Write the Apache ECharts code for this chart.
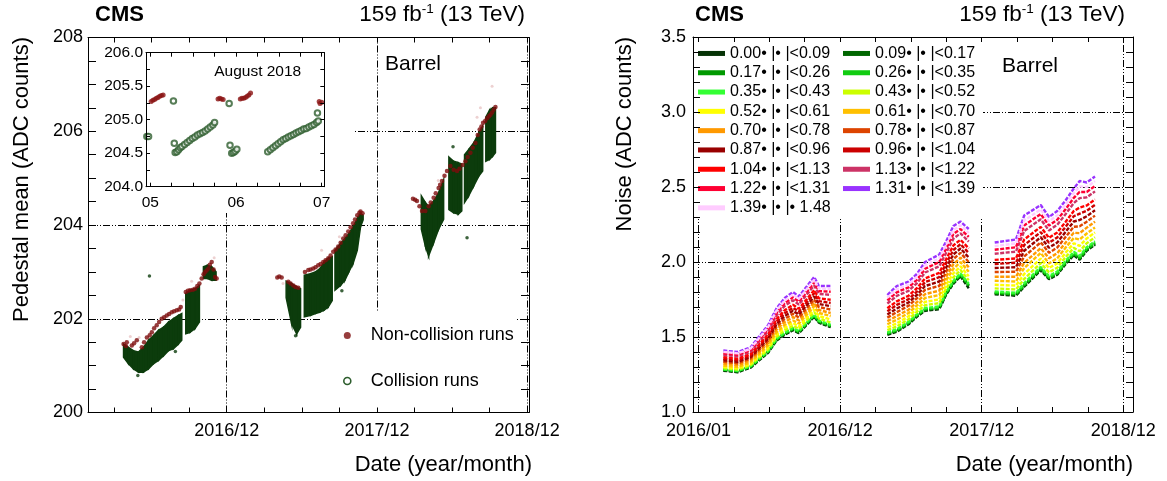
<!DOCTYPE html>
<html><head><meta charset="utf-8">
<script src="https://cdn.jsdelivr.net/npm/echarts@6/dist/echarts.min.js"></script>
<style>html,body{margin:0;padding:0;background:#fff}#c{width:1167px;height:481px}</style>
</head><body><div id="c"></div>
<script>
// ================= DATA =================
// x values are months counted from the "2016/01" axis label
const xTickMonths = [0, 12, 24, 36];
const xTickLabels = ['2016/01', '2016/12', '2017/12', '2018/12'];
const leftTickMonths = [3, 6, 9, 12, 15, 18, 21, 24, 27, 30, 33, 36];
const rightTickMonths = [0, 3, 6, 9, 12, 15, 18, 21, 24, 27, 30, 33, 36];
const insetTickDays = [5, 5.25, 5.5, 5.75, 6, 6.25, 6.5, 6.75, 7];
const insetDays = [5, 6, 7];
const insetDayLabels = ['05', '06', '07'];
const gridLeftX = [12, 24, 36];
const gridLeftY = [202, 204, 206];
const gridRightX = [0, 12, 24, 36];
const gridRightY = [1.5, 2.0, 2.5, 3.0];

// Pedestal mean, collision runs: band (low..high) per time sample, grouped in segments
const collisionMonths = [3.76,4.15,4.55,4.95,5.35,5.75,6.15,6.55,6.95,7.35,7.74,8.14,8.41,
  8.73,9.07,9.47,9.82, 10.14,10.46,10.8,11.15,
  16.75,17.19,17.59,17.9, 18.2,18.7,19.1,19.45,19.77,20.11,20.43,
  20.65,21.1,21.44,21.76,22.1,22.43,22.69,22.9,
  27.55,27.87,28.13,28.53,28.93,29.33, 29.75,30.13,30.5,30.78,
  31.0,31.33,31.73,32.13,32.45, 32.7,33.0,33.25,33.47];
const collisionLow = [201.18,201.04,200.93,200.86,200.86,200.93,201.04,201.11,201.21,201.32,201.36,201.46,201.54,
  201.68,201.71,201.79,201.93, 202.86,202.86,202.82,202.82,
  202.45,201.89,201.68,201.82, 202.04,202.07,202.11,202.14,202.18,202.25,202.39,
  202.61,202.71,202.82,203.0,203.18,203.46,203.96,204.11,
  203.91,203.55,203.34,203.62,203.91,204.12, 204.33,204.26,204.23,204.3,
  204.48,204.62,204.83,205.04,205.15, 205.36,205.4,205.47,205.54];
const collisionHigh = [201.46,201.39,201.32,201.29,201.39,201.54,201.64,201.75,201.82,201.93,202.0,202.07,202.11,
  202.54,202.61,202.64,202.71, 203.11,203.14,203.11,203.0,
  202.8,202.75,202.68,202.64, 202.93,202.96,203.0,203.07,203.21,203.29,203.32,
  203.46,203.61,203.71,203.82,203.96,204.14,204.25,204.21,
  204.62,204.48,204.4,204.51,204.69,204.97, 205.45,205.36,205.33,205.3,
  205.5,205.61,205.75,205.96,206.11, 206.3,206.45,206.5,206.5];
const collisionSegment = [1,1,1,1,1,1,1,1,1,1,1,1,1, 2,2,2,2, 3,3,3,3, 4,4,4,4, 5,5,5,5,5,5,5,
  6,6,6,6,6,6,6,6, 7,7,7,7,7,7, 8,8,8,8, 9,9,9,9,9, 10,10,10,10];
const collisionOutliers = [[5.83,202.91],[4.9,200.79],[17.5,201.64],[30.08,205.67],[31.2,203.73],[7.9,201.3],[21.2,202.6]];

// Pedestal mean, non-collision runs
const nonCollision = [[3.76,201.46],[3.95,201.42],[4.02,201.5],[4.42,201.43],[4.6,201.48],[4.82,201.54],[5.22,201.39],[5.4,201.5],
  [5.62,201.6],[5.85,201.65],[6.02,201.71],[6.2,201.8],[6.41,201.86],[6.6,201.93],[6.81,202.0],[7.0,202.03],[7.21,202.07],
  [7.4,202.1],[7.61,202.14],[7.8,202.16],[8.01,202.18],[8.2,202.2],[8.33,202.25],[8.73,202.57],[8.9,202.6],[9.07,202.61],
  [9.3,202.62],[9.47,202.64],[9.65,202.7],[9.82,202.75],[10.0,202.86],[10.15,202.95],[10.27,203.0],[10.4,203.03],[10.54,203.07],
  [10.65,203.15],[10.8,203.21],[10.95,203.05],[11.07,202.89],[11.2,202.86],
  [16.04,202.88],[16.2,202.9],[16.39,202.88],[16.92,202.79],[17.1,202.75],[17.32,202.71],[17.5,202.68],[17.72,202.66],
  [18.25,203.0],[18.52,203.04],[18.7,203.05],[18.91,203.07],[19.1,203.1],[19.31,203.14],[19.5,203.17],[19.71,203.21],
  [19.9,203.25],[20.11,203.29],[20.3,203.35],[20.51,203.43],[20.7,203.48],[20.91,203.54],[21.1,203.62],[21.31,203.71],
  [21.5,203.78],[21.71,203.86],[21.9,203.95],[22.1,204.04],[22.25,204.12],[22.43,204.21],[22.6,204.26],[22.69,204.29],[22.85,204.25],
  [26.88,204.56],[27.05,204.54],[27.2,204.51],[27.4,204.4],[27.6,204.3],[27.87,204.3],[28.13,204.4],[28.3,204.48],[28.53,204.58],
  [28.7,204.68],[28.93,204.79],[29.05,204.86],[29.2,204.94],[29.4,205.05],[29.6,205.15],[29.87,205.26],[30.13,205.18],
  [30.4,205.15],[30.6,205.2],[30.85,205.28],[31.07,205.36],[31.25,205.45],[31.47,205.54],[31.65,205.65],[31.87,205.75],
  [32.05,205.92],[32.21,206.04],[32.35,206.1],[32.48,206.18],[32.65,206.22],[32.8,206.28],[32.95,206.32],[33.07,206.35],
  [33.2,206.4],[33.33,206.46],[33.47,206.52]];
const nonCollisionFaint = [[33.2,206.96],[32.27,206.5],[32.0,206.3],[28.9,204.95],[19.58,203.46],[16.5,202.75],
  [9.2,202.8],[5.0,201.6],[11.0,203.3],[21.0,203.75],[4.3,201.62],[8.5,202.4]];

// Inset: August 2018 (day of month)
const insetNonCollision = [[5.01,205.27],[5.03,205.29],[5.05,205.30],[5.07,205.32],[5.09,205.33],[5.11,205.35],[5.13,205.36],[5.15,205.37],
  [5.79,205.31],[5.81,205.32],[5.83,205.31],[5.85,205.30],
  [6.05,205.31],[6.07,205.32],[6.09,205.32],[6.11,205.33],[6.13,205.35],[6.15,205.37],[6.17,205.40],
  [6.97,205.27],[6.98,205.24],[7.0,205.26]];
const insetCollision = [[4.96,204.75],[4.98,204.75],[5.27,205.28],[5.28,204.65],
  [5.29,204.51],[5.31,204.52],[5.33,204.55],[5.35,204.58],[5.37,204.60],[5.40,204.63],[5.43,204.66],[5.46,204.69],[5.49,204.72],
  [5.52,204.74],[5.55,204.77],[5.58,204.79],[5.61,204.81],[5.64,204.83],[5.67,204.86],[5.70,204.89],[5.73,204.92],[5.75,204.96],
  [5.92,205.24],[5.93,204.62],[5.95,204.50],[5.97,204.51],[5.99,204.53],[6.01,204.56],
  [6.37,204.52],[6.40,204.55],[6.43,204.58],[6.46,204.61],[6.49,204.64],[6.52,204.67],[6.55,204.70],[6.58,204.72],[6.61,204.74],
  [6.64,204.76],[6.67,204.78],[6.70,204.80],[6.73,204.82],[6.76,204.84],[6.79,204.86],[6.82,204.87],[6.85,204.89],[6.88,204.91],
  [6.91,204.93],[6.94,204.96],[6.96,204.98],[6.95,205.10]];

// Noise per |eta| bin
const etaBins = ['0.00• |• |<0.09','0.09• |• |<0.17','0.17• |• |<0.26','0.26• |• |<0.35','0.35• |• |<0.43','0.43• |• |<0.52',
  '0.52• |• |<0.61','0.61• |• |<0.70','0.70• |• |<0.78','0.78• |• |<0.87','0.87• |• |<0.96','0.96• |• |<1.04',
  '1.04• |• |<1.13','1.13• |• |<1.22','1.22• |• |<1.31','1.31• |• |<1.39','1.39• |• |• 1.48'];
const etaColors = ['#063306','#006600','#009900','#11cc11','#33ff33','#ccff00','#ffff00','#ffc000','#ff9900',
  '#dd4400','#990000','#cc0000','#ff0000','#cc3366','#ff0033','#9933ff','#ffccff'];
const noiseMonths = [2.1,3.3,4.4,5.9,6.6,7.3,8.0,8.5,9.8,10.2,11.2, 16.0,16.8,17.8,18.5,19.2,20.4,21.0,21.6,22.2,22.9,
  25.1,26.9,27.6,29.0,29.7,30.4,31.1,31.8,32.3,32.9,33.6];
const noise_000_009 = [1.275,1.265,1.295,1.395,1.475,1.515,1.545,1.525,1.635,1.595,1.565, 1.515,1.535,1.585,1.635,1.675,1.685,1.785,1.855,1.905,1.825, 1.785,1.775,1.835,1.945,1.885,1.915,1.985,2.045,2.015,2.075,2.115];
const noise_009_017 = [1.28,1.27,1.30,1.40,1.48,1.52,1.55,1.53,1.64,1.60,1.57, 1.52,1.54,1.59,1.64,1.68,1.69,1.79,1.86,1.91,1.84, 1.79,1.78,1.84,1.95,1.89,1.92,1.99,2.05,2.02,2.08,2.12];
const noise_017_026 = [1.282,1.272,1.302,1.402,1.483,1.523,1.553,1.533,1.643,1.603,1.573, 1.523,1.543,1.593,1.643,1.684,1.694,1.794,1.864,1.914,1.844, 1.794,1.784,1.845,1.955,1.894,1.924,1.994,2.055,2.025,2.084,2.124];
const noise_026_035 = [1.283,1.273,1.303,1.404,1.485,1.525,1.556,1.535,1.645,1.605,1.575, 1.525,1.546,1.596,1.646,1.686,1.697,1.797,1.867,1.917,1.847, 1.797,1.787,1.848,1.958,1.897,1.927,1.997,2.058,2.029,2.088,2.128];
const noise_035_043 = [1.285,1.275,1.305,1.407,1.488,1.53,1.56,1.54,1.65,1.61,1.581, 1.53,1.552,1.601,1.651,1.693,1.704,1.804,1.875,1.924,1.855, 1.804,1.795,1.859,1.967,1.906,1.937,2.007,2.068,2.041,2.098,2.138];
const noise_043_052 = [1.293,1.283,1.313,1.418,1.501,1.544,1.575,1.554,1.666,1.624,1.597, 1.546,1.57,1.618,1.668,1.712,1.726,1.825,1.898,1.946,1.878, 1.824,1.817,1.887,1.993,1.931,1.962,2.032,2.094,2.072,2.125,2.165];
const noise_052_061 = [1.302,1.292,1.322,1.431,1.516,1.561,1.593,1.571,1.684,1.641,1.616, 1.564,1.591,1.638,1.688,1.734,1.751,1.85,1.925,1.971,1.905, 1.848,1.843,1.92,2.023,1.96,1.991,2.061,2.125,2.108,2.157,2.197];
const noise_061_070 = [1.31,1.30,1.33,1.445,1.53,1.58,1.61,1.59,1.705,1.66,1.64, 1.585,1.615,1.66,1.71,1.76,1.78,1.88,1.955,2.0,1.935, 1.875,1.87,1.96,2.06,1.99,2.025,2.095,2.16,2.15,2.19,2.23];
const noise_070_078 = [1.323,1.313,1.343,1.46,1.55,1.60,1.633,1.61,1.726,1.68,1.66, 1.606,1.64,1.682,1.732,1.786,1.809,1.906,1.985,2.029,1.965, 1.902,1.902,1.995,2.092,2.025,2.059,2.129,2.195,2.192,2.229,2.269];
const noise_078_087 = [1.335,1.325,1.355,1.476,1.568,1.62,1.655,1.63,1.749,1.70,1.683, 1.629,1.666,1.708,1.758,1.814,1.841,1.937,2.02,2.061,2.0, 1.933,1.935,2.037,2.131,2.062,2.096,2.166,2.235,2.238,2.269,2.309];
const noise_087_096 = [1.345,1.335,1.365,1.49,1.585,1.64,1.675,1.65,1.77,1.72,1.705, 1.65,1.69,1.73,1.78,1.84,1.87,1.965,2.05,2.09,2.03, 1.96,1.965,2.075,2.165,2.095,2.13,2.20,2.27,2.28,2.305,2.345];
const noise_096_104 = [1.355,1.345,1.375,1.504,1.602,1.659,1.695,1.669,1.791,1.739,1.727, 1.671,1.714,1.752,1.802,1.866,1.899,1.993,2.08,2.119,2.06, 1.987,1.995,2.113,2.199,2.128,2.164,2.234,2.305,2.322,2.341,2.381];
const noise_104_113 = [1.366,1.356,1.386,1.519,1.619,1.678,1.715,1.688,1.812,1.758,1.748, 1.692,1.738,1.775,1.825,1.891,1.928,2.021,2.111,2.148,2.091, 2.014,2.024,2.15,2.234,2.161,2.197,2.267,2.34,2.363,2.377,2.417];
const noise_113_122 = [1.381,1.371,1.401,1.54,1.644,1.707,1.745,1.717,1.843,1.787,1.781, 1.723,1.774,1.808,1.858,1.93,1.971,2.063,2.156,2.191,2.136, 2.055,2.069,2.207,2.285,2.21,2.248,2.318,2.393,2.426,2.431,2.471];
const noise_122_131 = [1.392,1.382,1.412,1.555,1.661,1.726,1.765,1.736,1.864,1.806,1.802, 1.744,1.798,1.831,1.881,1.955,2.0,2.091,2.187,2.22,2.167, 2.082,2.098,2.244,2.32,2.243,2.281,2.351,2.428,2.467,2.467,2.507];
const noise_131_139 = [1.41,1.40,1.43,1.58,1.69,1.76,1.80,1.77,1.90,1.84,1.84, 1.78,1.84,1.87,1.92,2.00,2.05,2.14,2.24,2.27,2.22, 2.13,2.15,2.31,2.38,2.30,2.34,2.41,2.49,2.54,2.53,2.57];
const noise_139_148 = [1.401,1.391,1.421,1.567,1.675,1.743,1.783,1.753,1.882,1.823,1.821, 1.762,1.819,1.85,1.90,1.978,2.025,2.116,2.213,2.245,2.193, 2.106,2.124,2.277,2.35,2.271,2.311,2.381,2.459,2.504,2.499,2.539];
const noiseSeries = [noise_000_009,noise_009_017,noise_017_026,noise_026_035,noise_035_043,noise_043_052,noise_052_061,
  noise_061_070,noise_070_078,noise_078_087,noise_087_096,noise_096_104,noise_104_113,noise_113_122,noise_122_131,
  noise_131_139,noise_139_148];

// ================= CHART =================
const FONT = "'Liberation Sans', Arial, Helvetica, sans-serif";
const BLACK = '#000';
const GREEN = '#0c3c0c';
const RED = '#7d0d0d';
const chart = echarts.init(document.getElementById('c'), null, { renderer: 'canvas' });

function monthLabel(v) { const i = xTickMonths.indexOf(Math.round(v)); return i >= 0 ? xTickLabels[i] : ''; }
function dayLabel(v) { const i = insetDays.indexOf(Math.round(v)); return i >= 0 ? insetDayLabels[i] : ''; }

function xAx(grid, min, max, pos, ticks, labels, fmt, tickLen, fs, margin) {
  return {
    type: 'value', gridIndex: grid, min: min, max: max, position: pos, z: 5,
    axisLine: { show: true, onZero: false, lineStyle: { color: BLACK, width: 1 } },
    axisTick: { show: true, inside: true, length: tickLen, customValues: ticks, lineStyle: { color: BLACK, width: 1 } },
    axisLabel: labels ? { show: true, customValues: labels, formatter: fmt, color: BLACK, fontSize: fs, fontFamily: FONT, margin: margin } : { show: false },
    splitLine: { show: false }, minorTick: { show: false }, minorSplitLine: { show: false }
  };
}
function yAx(grid, min, max, interval, minorSplit, pos, labelOn, fmt, tickLen, fs, margin) {
  return {
    type: 'value', gridIndex: grid, min: min, max: max, interval: interval, position: pos, z: 5,
    axisLine: { show: true, onZero: false, lineStyle: { color: BLACK, width: 1 } },
    axisTick: { show: true, inside: true, length: tickLen, lineStyle: { color: BLACK, width: 1 } },
    minorTick: { show: true, splitNumber: minorSplit, length: tickLen, lineStyle: { color: BLACK, width: 1 } },
    axisLabel: labelOn ? { show: true, formatter: fmt, color: BLACK, fontSize: fs, fontFamily: FONT, margin: margin } : { show: false },
    splitLine: { show: false }, minorSplitLine: { show: false }
  };
}

const collisionQuads = [];
for (let i = 0; i < collisionMonths.length - 1; i++) {
  if (collisionSegment[i] === collisionSegment[i + 1]) {
    collisionQuads.push([collisionMonths[i], collisionLow[i], collisionHigh[i],
      collisionMonths[i + 1], collisionLow[i + 1], collisionHigh[i + 1]]);
  }
}
function buildNoise(arr) {
  const out = [];
  for (let i = 0; i < noiseMonths.length; i++) {
    if (i > 0 && noiseMonths[i] - noiseMonths[i - 1] > 2.0) out.push([noiseMonths[i - 1], '-']);
    out.push([noiseMonths[i], arr[i]]);
  }
  return out;
}
const dashDot = [7, 2, 1, 2, 1, 2];
function gridLineSeries(xi, yi, xs, ys) {
  return {
    type: 'line', name: 'grid' + xi, xAxisIndex: xi, yAxisIndex: yi, data: [], z: 1, silent: true,
    markLine: {
      z: 1, silent: true, symbol: ['none', 'none'], label: { show: false }, animation: false,
      lineStyle: { color: BLACK, width: 1, type: dashDot },
      emphasis: { disabled: true },
      data: xs.map(v => ({ xAxis: v })).concat(ys.map(v => ({ yAxis: v })))
    }
  };
}

const series = [
  gridLineSeries(0, 0, gridLeftX, gridLeftY),
  gridLineSeries(4, 4, gridRightX, gridRightY),
  {
    type: 'custom', name: 'Collision runs', xAxisIndex: 0, yAxisIndex: 0, z: 3, silent: true,
    itemStyle: { color: GREEN },
    encode: { x: [0, 3], y: [1, 2, 4, 5] },
    data: collisionQuads,
    renderItem: function (params, api) {
      const a = api.coord([api.value(0), api.value(2)]);
      const b = api.coord([api.value(3), api.value(5)]);
      const c = api.coord([api.value(3), api.value(4)]);
      const d = api.coord([api.value(0), api.value(1)]);
      return { type: 'polygon', shape: { points: [a, b, c, d] }, style: { fill: GREEN, stroke: GREEN, lineWidth: 1.5 } };
    }
  },
  { type: 'scatter', name: 'Collision outliers', xAxisIndex: 0, yAxisIndex: 0, z: 3, silent: true,
    symbolSize: 3.5, itemStyle: { color: GREEN }, data: collisionOutliers },
  { type: 'scatter', name: 'Non-collision faint', xAxisIndex: 0, yAxisIndex: 0, z: 3, silent: true,
    symbolSize: 3, itemStyle: { color: 'rgba(190,90,90,0.35)' }, data: nonCollisionFaint },
  { type: 'scatter', name: 'Non-collision runs', xAxisIndex: 0, yAxisIndex: 0, z: 4, silent: true,
    symbolSize: 4.5, itemStyle: { color: RED }, data: nonCollision },
  { type: 'scatter', name: 'Aug non-collision', xAxisIndex: 2, yAxisIndex: 2, z: 4, silent: true,
    symbolSize: 5, itemStyle: { color: '#8b1414' }, data: insetNonCollision },
  { type: 'scatter', name: 'Aug collision', xAxisIndex: 2, yAxisIndex: 2, z: 4, silent: true,
    symbol: 'emptyCircle', symbolSize: 5.5, itemStyle: { color: '#2e5e2e', borderColor: '#2e5e2e', borderWidth: 1.6 }, data: insetCollision }
];
etaBins.forEach(function (name, i) {
  series.push({
    type: 'line', name: name, xAxisIndex: 4, yAxisIndex: 4, z: 3, silent: true,
    showSymbol: false, symbol: 'none', connectNulls: false,
    itemStyle: { color: etaColors[i] },
    lineStyle: { color: etaColors[i], width: 2.4, type: [4, 1.5] },
    data: buildNoise(noiseSeries[i])
  });
});

function txt(x, y, text, size, opts) {
  opts = opts || {};
  return {
    type: 'text', x: x, y: y, z: 10, rotation: opts.rot || 0, silent: true,
    style: {
      text: text, fill: BLACK, font: (opts.bold ? 'bold ' : '') + size + 'px ' + FONT,
      align: opts.align || 'left', verticalAlign: 'middle',
      textAlign: opts.align || 'left', textVerticalAlign: 'middle',
      rich: opts.rich
    }
  };
}
const lumiRich = {
  a: { fontSize: 22.5, fontFamily: FONT, fill: BLACK, color: BLACK, lineHeight: 26 },
  s: { fontSize: 13.5, fontFamily: FONT, fill: BLACK, color: BLACK, lineHeight: 26, padding: [0, 0, 11, 0] }
};
function rect(x, y, w, h) {
  return { type: 'rect', z: 2, silent: true, shape: { x: x, y: y, width: w, height: h }, style: { fill: '#fff' } };
}

const option = {
  animation: false,
  backgroundColor: '#fff',
  grid: [
    { left: 88, top: 37.5, width: 441, height: 375 },
    { left: 146, top: 52.7, width: 178.3, height: 134 },
    { left: 693, top: 37, width: 440, height: 375 }
  ],
  xAxis: [
    xAx(0, 0.92, 36.15, 'bottom', leftTickMonths, [12, 24, 36], monthLabel, 5, 18, 10),
    xAx(0, 0.92, 36.15, 'top', leftTickMonths, null, null, 5),
    xAx(1, 4.95, 7.03, 'bottom', insetTickDays, insetDays, dayLabel, 4, 15.5, 8),
    xAx(1, 4.95, 7.03, 'top', insetTickDays, null, null, 4),
    xAx(2, -0.47, 36.82, 'bottom', rightTickMonths, xTickMonths, monthLabel, 5, 18, 10),
    xAx(2, -0.47, 36.82, 'top', rightTickMonths, null, null, 5)
  ],
  yAxis: [
    yAx(0, 200, 208, 2, 4, 'left', true, v => String(v), 8, 18, 5),
    yAx(0, 200, 208, 2, 4, 'right', false, null, 8),
    yAx(1, 204, 206, 0.5, 2, 'left', true, v => v.toFixed(1), 4, 15.5, 3),
    yAx(1, 204, 206, 0.5, 2, 'right', false, null, 4),
    yAx(2, 1, 3.5, 0.5, 5, 'left', true, v => v.toFixed(1), 7, 18, 7),
    yAx(2, 1, 3.5, 0.5, 5, 'right', false, null, 7)
  ],
  legend: [
    {
      orient: 'vertical', left: 343, top: 325.5, padding: 0, itemGap: 25.5,
      itemWidth: 37, itemHeight: 7, selectedMode: false,
      textStyle: { fontSize: 18, fontFamily: FONT, color: BLACK, lineHeight: 20 },
      data: [
        { name: 'Non-collision runs', icon: 'circle', itemStyle: { color: RED } },
        { name: 'Collision runs', icon: 'circle', itemStyle: { color: '#fff', borderColor: '#2e5e2e', borderWidth: 1.6 } }
      ]
    },
    {
      orient: 'horizontal', left: 698, top: 44.8, width: 300, padding: 0, itemGap: 2,
      itemWidth: 27, itemHeight: 5, icon: 'rect', selectedMode: false,
      textStyle: { fontSize: 16, fontFamily: FONT, color: BLACK, lineHeight: 17.3, width: 111 },
      data: etaBins
    }
  ],
  graphic: [
    rect(89, 38, 266, 175),
    rect(321, 312, 195, 100),
    rect(694, 38, 289, 180),
    txt(95, 15, 'CMS', 22, { bold: true }),
    txt(525, 15, '{a|159 fb}{s|-1}{a| (13 TeV)}', 22, { align: 'right', rich: lumiRich }),
    txt(695, 15, 'CMS', 22, { bold: true }),
    txt(1125, 15, '{a|159 fb}{s|-1}{a| (13 TeV)}', 22, { align: 'right', rich: lumiRich }),
    txt(385, 64, 'Barrel', 21),
    txt(1002, 66, 'Barrel', 21),
    txt(257.7, 71.7, 'August 2018', 15.5, { align: 'center' }),
    txt(22, 37, 'Pedestal mean (ADC counts)', 22, { align: 'right', rot: Math.PI / 2 }),
    txt(625, 37, 'Noise (ADC counts)', 22, { align: 'right', rot: Math.PI / 2 }),
    txt(532, 465, 'Date (year/month)', 22, { align: 'right' }),
    txt(1133, 465, 'Date (year/month)', 22, { align: 'right' })
  ],
  series: series
};
chart.setOption(option);
</script>
</body></html>
